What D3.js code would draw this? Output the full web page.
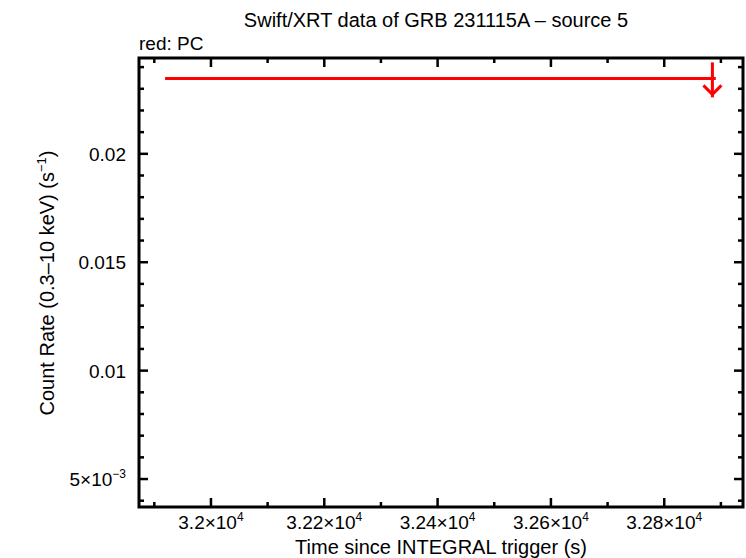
<!DOCTYPE html>
<html>
<head>
<meta charset="utf-8">
<script src="https://cdn.jsdelivr.net/npm/d3@7"></script>
<style>
body { margin: 0; background: #fff; }
text { font-family: "Liberation Sans", Arial, sans-serif; fill: #000; }
</style>
</head>
<body>
<div id="chart"></div>
<script>
// data: one upper limit (PC mode)
var pcTime = [32885];
var pcTimeErrLo = [966];
var pcTimeErrHi = [6];
var pcRate = [0.02348];

var xTicks = [32000, 32200, 32400, 32600, 32800];
var xTickLabels = ["3.2", "3.22", "3.24", "3.26", "3.28"];
var yTicks = [0.005, 0.01, 0.015, 0.02];
var yTickLabels = ["5×10", "0.01", "0.015", "0.02"];

var w = 746, h = 558;
var pLeft = 139, pRight = 743, pTop = 58, pBottom = 507;

var x = d3.scaleLinear().domain([31873, 32939]).range([pLeft, pRight]);
var y = d3.scaleLinear().domain([0.00371, 0.02442]).range([pBottom, pTop]);

var svg = d3.select("#chart").append("svg")
    .attr("width", w).attr("height", h);

// ticks
var xMinor = d3.range(31900, 32940, 100);
var yMinor = d3.range(4, 25, 1).map(function (d) { return d / 1000; });

function isMajorX(v) { return xTicks.indexOf(v) >= 0; }
function isMajorY(v) {
    return yTicks.some(function (t) { return Math.abs(t - v) < 1e-7; });
}

var tk = svg.append("g").attr("stroke", "#000").attr("stroke-width", 2.5);
xMinor.forEach(function (v) {
    var len = isMajorX(v) ? 9 : 5;
    tk.append("line").attr("x1", x(v)).attr("x2", x(v)).attr("y1", pBottom).attr("y2", pBottom - len);
    tk.append("line").attr("x1", x(v)).attr("x2", x(v)).attr("y1", pTop).attr("y2", pTop + len);
});
yMinor.forEach(function (v) {
    var len = isMajorY(v) ? 9 : 5;
    tk.append("line").attr("x1", pLeft).attr("x2", pLeft + len).attr("y1", y(v)).attr("y2", y(v));
    tk.append("line").attr("x1", pRight).attr("x2", pRight - len).attr("y1", y(v)).attr("y2", y(v));
});

// frame
svg.append("rect")
    .attr("x", pLeft).attr("y", pTop)
    .attr("width", pRight - pLeft).attr("height", pBottom - pTop)
    .attr("fill", "none").attr("stroke", "#000").attr("stroke-width", 3);

// x tick labels
xTicks.forEach(function (v, i) {
    var t = svg.append("text")
        .attr("x", x(v)).attr("y", 529)
        .attr("text-anchor", "middle")
        .attr("font-size", 19);
    t.append("tspan").text(xTickLabels[i] + "×10");
    t.append("tspan").attr("font-size", 12).attr("dy", -8).text("4");
});

// y tick labels
yTicks.forEach(function (v, i) {
    var t = svg.append("text")
        .attr("x", 126).attr("y", y(v) + 7)
        .attr("text-anchor", "end")
        .attr("font-size", 19);
    if (i === 0) {
        t.append("tspan").text(yTickLabels[i]);
        t.append("tspan").attr("font-size", 12).attr("dy", -8).text("−3");
    } else {
        t.text(yTickLabels[i]);
    }
});

// titles
svg.append("text").attr("x", 436).attr("y", 27)
    .attr("text-anchor", "middle").attr("font-size", 20)
    .text("Swift/XRT data of GRB 231115A – source 5");
svg.append("text").attr("x", 139).attr("y", 50)
    .attr("font-size", 19).text("red: PC");
svg.append("text").attr("x", 441).attr("y", 554)
    .attr("text-anchor", "middle").attr("font-size", 20)
    .text("Time since INTEGRAL trigger (s)");
var yl = svg.append("text")
    .attr("transform", "translate(54," + 283 + ") rotate(-90)")
    .attr("text-anchor", "middle").attr("font-size", 20);
yl.append("tspan").text("Count Rate (0.3–10 keV) (s");
yl.append("tspan").attr("font-size", 13).attr("dy", -8).text("−1");
yl.append("tspan").attr("dy", 8).text(")");

// upper limit marks
var g = svg.append("g").attr("stroke", "red").attr("stroke-width", 3).attr("fill", "none");
pcTime.forEach(function (t, i) {
    var r = pcRate[i];
    g.append("line")
        .attr("x1", x(t - pcTimeErrLo[i])).attr("x2", x(t + pcTimeErrHi[i]))
        .attr("y1", y(r)).attr("y2", y(r));
    var yTop = y(r) - 16, yEnd = y(r) + 19;
    g.append("line")
        .attr("x1", x(t)).attr("x2", x(t))
        .attr("y1", yTop).attr("y2", yEnd);
    g.append("path")
        .attr("d", "M" + (x(t) - 9) + "," + (yEnd - 12) + "L" + x(t) + "," + (yEnd - 3) + "L" + (x(t) + 9) + "," + (yEnd - 12));
});
</script>
</body>
</html>
